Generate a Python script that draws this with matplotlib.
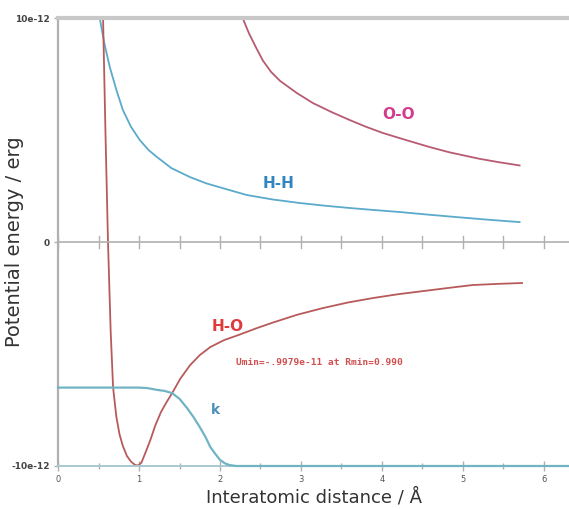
import numpy as np
import matplotlib
matplotlib.use("Agg")
import matplotlib.pyplot as plt

# Pair potentials, energies in units of 1e-12 erg, distances in Å
r_hh = [0.52, 0.57, 0.64, 0.72, 0.80, 0.90, 1.01, 1.12, 1.22, 1.40, 1.63, 1.83, 2.04, 2.33,
        2.65, 2.99, 3.30, 3.60, 3.90, 4.22, 4.55, 4.90, 5.30, 5.70]
u_hh = [9.9, 8.9, 7.8, 6.8, 5.9, 5.15, 4.55, 4.1, 3.8, 3.3, 2.9, 2.62, 2.4, 2.1,
        1.9, 1.74, 1.62, 1.52, 1.43, 1.34, 1.23, 1.12, 1.0, 0.89]

r_oo = [2.28, 2.36, 2.45, 2.53, 2.63, 2.74, 2.95, 3.15, 3.38, 3.60, 3.80, 4.01, 4.30, 4.59,
        4.84, 5.20, 5.45, 5.70]
u_oo = [10.0, 9.3, 8.65, 8.1, 7.6, 7.2, 6.65, 6.2, 5.8, 5.45, 5.15, 4.87, 4.55, 4.24,
        4.0, 3.72, 3.56, 3.42]

r_ho = [0.556, 0.585, 0.617, 0.65, 0.68, 0.72, 0.76, 0.80, 0.85, 0.90, 0.95, 0.99, 1.03, 1.08,
        1.14, 1.20, 1.27, 1.34, 1.41, 1.51, 1.63, 1.75, 1.88, 2.05, 2.23, 2.45, 2.65, 2.95,
        3.27, 3.58, 3.89, 4.20, 4.51, 4.82, 5.12, 5.42, 5.73]
u_ho = [10.0, 5.0, 0.0, -4.0, -6.5, -7.8, -8.6, -9.1, -9.55, -9.8, -9.95, -9.979, -9.85, -9.4,
        -8.84, -8.2, -7.6, -7.15, -6.74, -6.1, -5.5, -5.05, -4.69, -4.38, -4.15, -3.85, -3.6, -3.25,
        -2.95, -2.7, -2.5, -2.33, -2.19, -2.05, -1.92, -1.87, -1.83]

r_k = [0.0, 0.5, 1.0, 1.1, 1.22, 1.32, 1.41, 1.50, 1.59, 1.67, 1.75, 1.82, 1.88, 1.94, 2.0,
       2.06, 2.12, 2.2, 3.0, 4.0, 5.0, 6.0, 6.31]
u_k = [-6.5, -6.5, -6.5, -6.52, -6.6, -6.65, -6.75, -7.0, -7.4, -7.8, -8.26, -8.7, -9.15, -9.45, -9.73,
       -9.88, -9.96, -10.0, -10.0, -10.0, -10.0, -10.0, -10.0]

umin = -9.979
rmin = 0.990

x_major = [0, 1, 2, 3, 4, 5, 6]
x_minor = [0.5, 1.5, 2.5, 3.5, 4.5, 5.5]
y_ticks = [-10, 0, 10]
y_labels = ["-10e-12", "0", "10e-12"]

fig = plt.figure(figsize=(5.69, 5.09), dpi=100)
ax = fig.add_axes([0.102, 0.0845, 0.898, 0.880])
ax.set_xlim(0, 6.31)
ax.set_ylim(-10, 10)

c_hh = "#5aaacb"
c_oo = "#b85a72"
c_ho = "#b85a5a"
c_k = "#70b4c4"
grey = "#b0b0b0"

ax.plot(r_hh, u_hh, color=c_hh, lw=1.3)
ax.plot(r_oo, u_oo, color=c_oo, lw=1.3)
ax.plot(r_ho, u_ho, color=c_ho, lw=1.3)
ax.plot(r_k, u_k, color=c_k, lw=1.6, clip_on=False, zorder=3)

# zero line with half-unit ticks
ax.axhline(0, color=grey, lw=1.2)
for xt in x_major + x_minor:
    ax.plot([xt, xt], [-0.25, 0.25], color=grey, lw=1.0)

ax.spines["right"].set_visible(False)
ax.spines["top"].set_color("#c8c8c8")
ax.spines["top"].set_linewidth(3)
ax.spines["left"].set_color(grey)
ax.spines["left"].set_linewidth(1.6)
ax.spines["bottom"].set_color("#a8c8d0")
ax.spines["bottom"].set_linewidth(1.4)

ax.set_xticks(x_major)
ax.set_xticks(x_minor, minor=True)
ax.set_xticklabels([str(v) for v in x_major], fontsize=6, color="#555555")
ax.tick_params(axis="x", which="major", direction="inout", length=7, width=1, color=grey, pad=3)
ax.tick_params(axis="x", which="minor", direction="inout", length=4, width=1, color=grey)
ax.set_yticks(y_ticks)
ax.set_yticklabels(y_labels, fontsize=6.5, color="#444444", fontweight="bold")
ax.tick_params(axis="y", direction="out", length=3, width=1, color=grey, pad=3)

ax.set_xlabel("Interatomic distance / Å", fontsize=13, color="#333333", labelpad=3)
ax.set_ylabel("Potential energy / erg", fontsize=14, color="#333333")
ax.yaxis.set_label_coords(-0.066, 0.5)

ax.text(2.72, 2.6, "H-H", color="#2f86c0", fontsize=11, fontweight="bold", ha="center", va="center")
ax.text(4.2, 5.7, "O-O", color="#d23c8c", fontsize=11, fontweight="bold", ha="center", va="center")
ax.text(2.1, -3.75, "H-O", color="#e03a3a", fontsize=11, fontweight="bold", ha="center", va="center")
ax.text(1.94, -7.5, "k", color="#4a90b8", fontsize=10, fontweight="bold", ha="center", va="center")
umin_txt = f"{umin / 10:.4f}".replace("-0.", "-.")
ax.text(2.2, -5.4, f"Umin={umin_txt}e-11 at Rmin={rmin:.3f}",
        color="#d05050", fontsize=6.8, family="DejaVu Sans Mono", fontweight="bold",
        ha="left", va="center")

fig.savefig("out.png", dpi=100)
